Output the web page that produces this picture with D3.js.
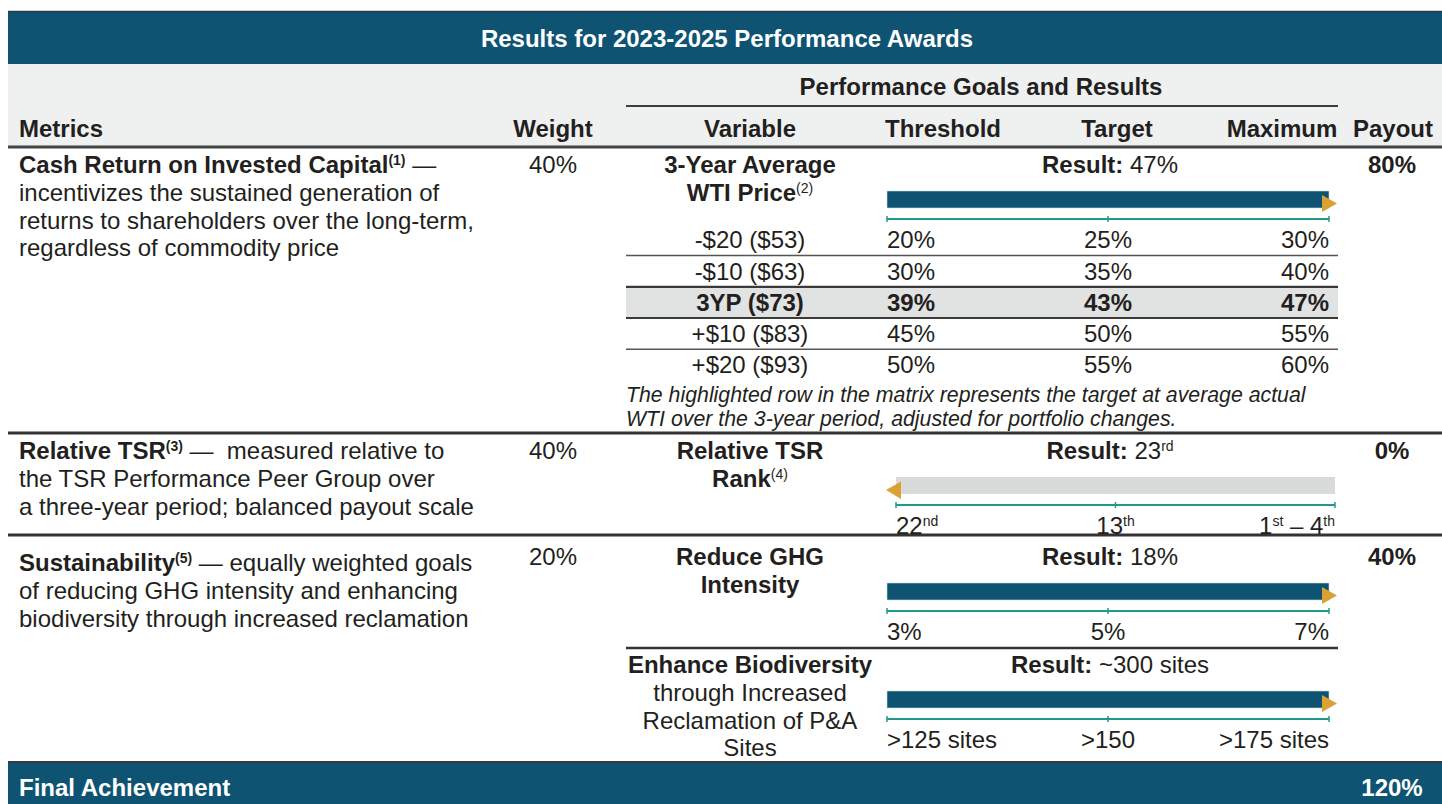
<!DOCTYPE html>
<html>
<head>
<meta charset="utf-8">
<script src="https://cdn.jsdelivr.net/npm/d3@7"></script>
<style>
  body { margin: 0; background: #fff; }
  text { font-family: "Liberation Sans", Arial, sans-serif; white-space: pre; }
</style>
</head>
<body>
<svg id="chart" width="1442" height="804"></svg>
<script>
// ---- data ----
const title = "Results for 2023-2025 Performance Awards";
const goalsTitle = "Performance Goals and Results";
const headers = ["Metrics", "Weight", "Variable", "Threshold", "Target", "Maximum", "Payout"];
const weights = ["40%", "40%", "20%"];
const payouts = ["80%", "0%", "40%"];
const finalLabel = "Final Achievement";
const finalPayout = "120%";

// segments: [text, style]  b = bold, s = superscript
const metricLines = [
  [[["Cash Return on Invested Capital", "b"], ["(1)", "bs"], [" —", ""]],
   [["incentivizes the sustained generation of", ""]],
   [["returns to shareholders over the long-term,", ""]],
   [["regardless of commodity price", ""]]],
  [[["Relative TSR", "b"], ["(3)", "bs"], [" —  measured relative to", ""]],
   [["the TSR Performance Peer Group over", ""]],
   [["a three-year period; balanced payout scale", ""]]],
  [[["Sustainability", "b"], ["(5)", "bs"], [" — equally weighted goals", ""]],
   [["of reducing GHG intensity and enhancing", ""]],
   [["biodiversity through increased reclamation", ""]]]
];

const goalNames = [
  [[["3-Year Average", "b"]], [["WTI Price", "b"], ["(2)", "s"]]],
  [[["Relative TSR", "b"]], [["Rank", "b"], ["(4)", "s"]]],
  [[["Reduce GHG", "b"]], [["Intensity", "b"]]],
  [[["Enhance Biodiversity", "b"]], [["through Increased", ""]], [["Reclamation of P&A", ""]], [["Sites", ""]]]
];
const goalResults = [
  [["Result:", "b"], [" 47%", ""]],
  [["Result:", "b"], [" 23", ""], ["rd", "s"]],
  [["Result:", "b"], [" 18%", ""]],
  [["Result:", "b"], [" ~300 sites", ""]]
];
// threshold / target / maximum levels and the actual result
const goalLevels = [[39, 43, 47], [22, 13, 4], [3, 5, 7], [125, 150, 175]];
const goalActual = [47, 23, 18, 300];
const goalTickLabels = [
  null, // WTI uses the matrix rows below
  [[["22", ""], ["nd", "s"]], [["13", ""], ["th", "s"]], [["1", ""], ["st", "s"], [" – 4", ""], ["th", "s"]]],
  [[["3%", ""]], [["5%", ""]], [["7%", ""]]],
  [[[">125 sites", ""]], [[">150", ""]], [[">175 sites", ""]]]
];

// WTI price matrix
const wtiRows = ["-$20 ($53)", "-$10 ($63)", "3YP ($73)", "+$10 ($83)", "+$20 ($93)"];
const wtiThreshold = [20, 30, 39, 45, 50];
const wtiTarget = [25, 35, 43, 50, 55];
const wtiMaximum = [30, 40, 47, 55, 60];
const wtiHighlight = 2;
const wtiNote = [
  "The highlighted row in the matrix represents the target at average actual",
  "WTI over the 3-year period, adjusted for portfolio changes."
];

// ---- style / layout ----
const navy = "#0e5372", ink = "#231f20", teal = "#23998e", gold = "#d9a233";
const fs = 24, supFs = 14;
const svg = d3.select("#chart");

function rich(g, x, y, segs, o) {
  o = o || {};
  const size = o.size || fs;
  const t = g.append("text")
    .attr("x", x).attr("y", y).attr("dy", "0.35em")
    .attr("text-anchor", o.anchor || "start")
    .attr("fill", o.fill || ink)
    .style("font-size", size + "px");
  if (o.italic) t.style("font-style", "italic");
  let up = false;
  segs.forEach(([txt, st]) => {
    const sp = t.append("tspan").text(txt);
    if (st.includes("b")) sp.attr("font-weight", "bold");
    const isSup = st.includes("s");
    if (isSup) sp.style("font-size", supFs + "px");
    if (isSup && !up) { sp.attr("dy", -8); up = true; }
    else if (!isSup && up) { sp.attr("dy", 8); up = false; }
  });
  return t;
}
function hline(x1, x2, y, w, c) {
  svg.append("line").attr("x1", x1).attr("x2", x2).attr("y1", y).attr("y2", y)
    .attr("stroke", c || "#3a3a3a").attr("stroke-width", w);
}

const col = { metric: 19, weight: 553, variable: 750, result: 1110, payout: 1392 };
const headX = [19, 553, 750, 943, 1117, 1282, 1393];
const lh = 27.6;

// bands
svg.append("rect").attr("x", 8).attr("y", 11).attr("width", 1434).attr("height", 53).attr("fill", navy);
hline(8, 1442, 11.5, 1.5, "#2f3a40");
rich(svg, 727, 39, [[title, "b"]], { anchor: "middle", fill: "#fff", size: 24 });
svg.append("rect").attr("x", 8).attr("y", 64).attr("width", 1434).attr("height", 83).attr("fill", "#eff0f0");
rich(svg, 981, 87, [[goalsTitle, "b"]], { anchor: "middle" });
hline(626, 1338, 106, 2, "#3d3d3d");
headers.forEach((h, i) => rich(svg, headX[i], 129, [[h, "b"]], { anchor: i === 0 ? "start" : "middle" }));
hline(8, 1442, 147, 3, "#444");

// sections
const sectionTop = [165, 451, 557];
const metricOffset = [0, 0, 6];
metricLines.forEach((lines, i) => {
  lines.forEach((l, j) => rich(svg, col.metric, sectionTop[i] + metricOffset[i] + j * lh, l));
  rich(svg, col.weight, sectionTop[i], [[weights[i], ""]], { anchor: "middle" });
  rich(svg, col.payout, sectionTop[i], [[payouts[i], "b"]], { anchor: "middle" });
});
hline(8, 1442, 433, 3, "#333");
hline(8, 1442, 535, 3, "#333");
hline(626, 1338, 648, 2.5, "#333");

// goals: variable name, result, bar, scale
const goalTop = [165, 451, 557, 665];
const goalRange = [[887, 1329], [896, 1335], [887, 1329], [887, 1329]];
goalNames.forEach((lines, i) => {
  const y0 = goalTop[i];
  lines.forEach((l, j) => rich(svg, col.variable, y0 + j * lh, l, { anchor: "middle" }));
  rich(svg, col.result, y0, goalResults[i], { anchor: "middle" });

  const lev = goalLevels[i];
  const [r0, r1] = goalRange[i];
  const x = d3.scaleLinear().domain(lev).range([r0, (r0 + r1) / 2, r1]).clamp(true);
  const pos = (goalActual[i] - lev[0]) / (lev[2] - lev[0]);
  const by = y0 + 26, bh = 17;
  const g = svg.append("g");
  g.append("rect").attr("x", r0).attr("y", by).attr("width", r1 - r0).attr("height", bh).attr("fill", "#d9dada");
  g.append("rect").attr("x", r0).attr("y", by).attr("width", x(goalActual[i]) - r0).attr("height", bh)
    .attr("fill", navy).attr("stroke", "#c9dbe3").attr("stroke-width", 0.6);
  if (pos >= 1) {
    g.append("path").attr("fill", gold)
      .attr("d", `M${r1 - 7},${by + 4}L${r1 + 8},${by + 12.5}L${r1 - 7},${by + 21}Z`);
  } else if (pos < 0) {
    g.append("path").attr("fill", gold)
      .attr("d", `M${r0 + 5},${by + 4.5}L${r0 - 10},${by + 13}L${r0 + 5},${by + 22}Z`);
  }
  // scale line with ticks
  const ay = y0 + 54;
  g.append("line").attr("x1", r0).attr("x2", r1).attr("y1", ay).attr("y2", ay)
    .attr("stroke", teal).attr("stroke-width", 2);
  g.selectAll(".tk").data(lev).enter().append("line")
    .attr("x1", d => x(d)).attr("x2", d => x(d)).attr("y1", ay - 3).attr("y2", ay + 3)
    .attr("stroke", teal).attr("stroke-width", 1.5);
  if (goalTickLabels[i]) {
    const anchors = ["start", "middle", "end"];
    goalTickLabels[i].forEach((segs, k) =>
      rich(svg, x(lev[k]), y0 + 75, segs, { anchor: anchors[k] }));
  }
});

// WTI matrix
const mTop = 240, mStep = 31.2;
const my = d3.scaleLinear().domain([0, 1]).range([mTop, mTop + mStep]);
svg.append("rect").attr("x", 626).attr("y", my(wtiHighlight - 0.5)).attr("width", 712)
  .attr("height", mStep).attr("fill", "#e1e2e2");
[0.5, 1.5, 2.5, 3.5].forEach(k => {
  const heavy = k === wtiHighlight - 0.5 || k === wtiHighlight + 0.5;
  hline(626, 1338, my(k), heavy ? 2.2 : 1.5, heavy ? "#3a3a3a" : "#555");
});
const mx = d3.scaleLinear().domain([0, 2]).range([887, 1329]);
wtiRows.forEach((r, i) => {
  const st = i === wtiHighlight ? "b" : "";
  rich(svg, col.variable, my(i), [[r, st]], { anchor: "middle" });
  rich(svg, mx(0), my(i), [[wtiThreshold[i] + "%", st]], { anchor: "start" });
  rich(svg, mx(1), my(i), [[wtiTarget[i] + "%", st]], { anchor: "middle" });
  rich(svg, mx(2), my(i), [[wtiMaximum[i] + "%", st]], { anchor: "end" });
});
wtiNote.forEach((n, j) => rich(svg, 626, 395 + j * 23.5, [[n, ""]], { italic: true, size: 21.3 }));

// final band
svg.append("rect").attr("x", 8).attr("y", 762).attr("width", 1434).attr("height", 42).attr("fill", navy);
hline(8, 1442, 762, 2, "#3a3a3a");
rich(svg, col.metric, 788, [[finalLabel, "b"]], { fill: "#fff" });
rich(svg, col.payout, 788, [[finalPayout, "b"]], { anchor: "middle", fill: "#fff" });
</script>
</body>
</html>
